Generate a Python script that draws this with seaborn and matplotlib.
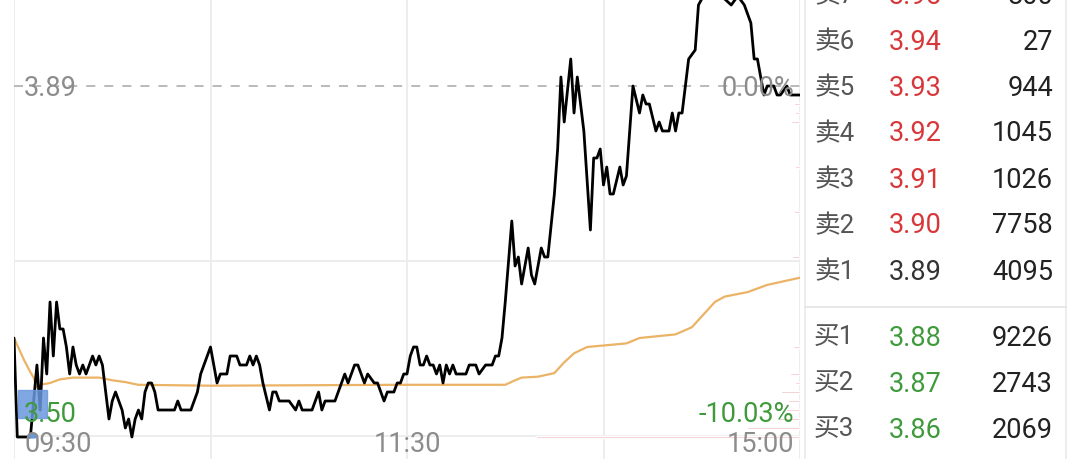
import pandas as pd
import matplotlib.pyplot as plt
import seaborn as sns
from matplotlib.lines import Line2D
from matplotlib.patches import Rectangle, Circle

sns.set_theme(style='white')
plt.rcParams['font.family'] = ['Roboto', 'Noto Sans CJK SC', 'DejaVu Sans']

# ===== 分时数据（分钟序号 0-240，0=09:30，120=11:30/13:00，240=15:00） =====
t_price = [0, 1, 5, 7, 8, 9, 10, 11, 12, 13, 14, 15, 16, 17, 18, 19, 20, 21, 22, 23,
           24, 25, 26, 27, 28, 29, 30, 31, 32, 33, 34, 35, 36, 37, 38, 39, 40, 41, 42, 43,
           44, 49, 50, 51, 54, 55, 56, 57, 58, 60, 61, 62, 63, 65, 66, 68, 69, 71, 72, 73,
           74, 75, 76, 78, 79, 80, 81, 84, 86, 87, 88, 91, 92, 93, 94, 95, 98, 100, 101, 102,
           104, 105, 107, 108, 110, 111, 113, 114, 116, 117, 118, 119, 120,
           121, 122, 123, 124, 125, 126, 127, 128, 129, 130, 131, 132, 133, 134, 135, 138, 139,
           141, 142, 144, 146, 147, 148, 149, 150, 152, 153, 154, 155, 157, 158, 159, 160, 161,
           162, 163, 165, 166, 167, 168, 170, 171, 172, 173, 174, 176, 177, 178, 179, 180, 181,
           182, 183, 185, 186, 187, 189, 191, 192, 193, 194, 196, 197, 198, 200, 201, 202, 203,
           204, 206, 208, 209, 212, 216, 219, 221, 223, 224, 225, 226, 227, 228, 229, 230, 231,
           232, 233, 234, 236, 237, 238, 240]
price = [3.61, 3.50, 3.50, 3.58, 3.53, 3.61, 3.57, 3.65, 3.59, 3.65, 3.62, 3.62, 3.60, 3.57, 3.60, 3.58, 3.57, 3.58, 3.57, 3.58,
         3.59, 3.58, 3.59, 3.58, 3.55, 3.52, 3.54, 3.55, 3.54, 3.53, 3.51, 3.52, 3.50, 3.52, 3.53, 3.52, 3.55, 3.56, 3.56, 3.55,
         3.53, 3.53, 3.54, 3.53, 3.53, 3.54, 3.55, 3.57, 3.58, 3.60, 3.58, 3.56, 3.57, 3.57, 3.59, 3.59, 3.58, 3.58, 3.59, 3.58,
         3.59, 3.58, 3.56, 3.53, 3.55, 3.55, 3.54, 3.54, 3.53, 3.54, 3.53, 3.53, 3.54, 3.55, 3.53, 3.54, 3.54, 3.56, 3.57, 3.56,
         3.58, 3.58, 3.56, 3.57, 3.56, 3.56, 3.54, 3.55, 3.55, 3.56, 3.56, 3.57, 3.57,
         3.59, 3.60, 3.60, 3.58, 3.58, 3.59, 3.58, 3.58, 3.57, 3.58, 3.56, 3.58, 3.57, 3.58, 3.57, 3.57, 3.58,
         3.58, 3.57, 3.58, 3.58, 3.59, 3.59, 3.61, 3.65, 3.74, 3.69, 3.70, 3.67, 3.71, 3.68, 3.67, 3.69, 3.71,
         3.70, 3.70, 3.77, 3.82, 3.90, 3.85, 3.92, 3.86, 3.90, 3.87, 3.84, 3.73, 3.81, 3.81, 3.82, 3.78, 3.80,
         3.77, 3.77, 3.80, 3.78, 3.79, 3.89, 3.86, 3.88, 3.87, 3.87, 3.84, 3.85, 3.84, 3.84, 3.86, 3.84, 3.86,
         3.86, 3.92, 3.93, 3.98, 4.00, 3.99, 3.98, 3.99, 3.98, 3.97, 3.96, 3.92, 3.92, 3.90, 3.88, 3.89, 3.89,
         3.89, 3.88, 3.88, 3.89, 3.88, 3.88, 3.88]

# 均价线
t_avg = [0, 3, 5, 6, 7, 8, 11, 14, 18, 26, 30, 34, 38, 60, 118, 150, 153, 155, 160, 165,
         168, 171, 175, 187, 191, 202, 207, 211, 214, 217, 224, 230, 240]
avg_price = [3.610, 3.586, 3.572, 3.566, 3.555, 3.558, 3.560, 3.564, 3.566, 3.566, 3.563, 3.561,
             3.558, 3.557, 3.558, 3.558, 3.563, 3.566, 3.567, 3.571, 3.583, 3.593, 3.600, 3.604,
             3.610, 3.614, 3.622, 3.638, 3.650, 3.656, 3.661, 3.669, 3.677]

# 分价成交量（右侧粉色短线）
vp_price = [3.87, 3.86, 3.85, 3.80, 3.75, 3.70, 3.60, 3.57, 3.56, 3.55, 3.54, 3.53, 3.52, 3.51, 3.50]
vp_volume = [6, 5, 9, 5, 6, 8, 7, 10, 5, 19, 12, 14, 22, 53, 264]

prev_close = 3.89
time_labels = ['09:30', '11:30', '15:00']

# 五档盘口
ask_labels = ['卖7', '卖6', '卖5', '卖4', '卖3', '卖2', '卖1']
ask_prices = ['3.95', '3.94', '3.93', '3.92', '3.91', '3.90', '3.89']
ask_volumes = ['800', '27', '944', '1045', '1026', '7758', '4095']
bid_labels = ['买1', '买2', '买3']
bid_prices = ['3.88', '3.87', '3.86']
bid_volumes = ['9226', '2743', '2069']

W, H = 1080, 459
RED, GREEN, GREY = '#d8373a', '#3f9a3c', '#8c8c8c'


def fx(x):
    return x / W


def fy(y):
    return 1 - y / H


fig = plt.figure(figsize=(10.8, 4.59), dpi=100)
fig.patch.set_facecolor('white')

ax = fig.add_axes([fx(14), 0, (800 - 14) / W, 1])
ax.set_xlim(0, 240)
ax.set_ylim(prev_close - (H - 86) / 900, prev_close + 86 / 900)
ax.axis('off')

# 网格
for m in [0, 60, 120, 180, 240]:
    ax.axvline(m, color='#ececec', lw=1.3, zorder=0)
for r in [0.95, 0.90]:
    ax.axhline(prev_close * r, color='#ececec', lw=1.3, zorder=0)
ax.axhline(prev_close, color='#b4b4b4', lw=1.3, ls=(0, (5, 5)), zorder=1)

# 分价量
ax.barh(vp_price, [v * 240 / 786 for v in vp_volume],
        left=[240 - v * 240 / 786 for v in vp_volume],
        height=0.0022, color='#f1b9ba', zorder=1)

df_p = pd.DataFrame({'t': t_price, 'p': price})
df_a = pd.DataFrame({'t': t_avg, 'p': avg_price})
sns.lineplot(data=df_a, x='t', y='p', ax=ax, color='#ebb365', lw=1.6, estimator=None, zorder=3)
sns.lineplot(data=df_p, x='t', y='p', ax=ax, color='black', lw=2.0, estimator=None, zorder=4)
ax.axis('off')

# 选中标记
fig.add_artist(Rectangle((fx(18), fy(418)), fx(29), 28 / H, color='#6a98dc', alpha=0.85, zorder=2))
fig.add_artist(Circle((fx(33), fy(436)), 0.0042, color='#6a98dc', zorder=2))

fs = 19.5
fig.text(fx(24), fy(88), '3.89', color=GREY, fontsize=fs, va='center', ha='left', zorder=2)
fig.text(fx(794), fy(88), '0.00%', color=GREY, fontsize=fs, va='center', ha='right', zorder=2)
fig.text(fx(24), fy(414), '3.50', color=GREEN, fontsize=fs, va='center', ha='left', zorder=5)
fig.text(fx(794), fy(414), '-10.03%', color=GREEN, fontsize=fs, va='center', ha='right', zorder=5)
# 时间轴标签（底部贴边）
fig.text(fx(24), fy(458), time_labels[0], color=GREY, fontsize=fs, va='bottom', ha='left')
fig.text(fx(407), fy(458), time_labels[1], color=GREY, fontsize=fs, va='bottom', ha='center')
fig.text(fx(794), fy(458), time_labels[2], color=GREY, fontsize=fs, va='bottom', ha='right')

# 盘口面板
fig.add_artist(Line2D([fx(805), fx(805)], [0, 1], color='#ececec', lw=1.3))
fig.add_artist(Line2D([fx(1066), fx(1066)], [0, 1], color='#ececec', lw=1.3))
fig.add_artist(Line2D([fx(805), fx(1066)], [fy(307), fy(307)], color='#e6e6e6', lw=1.3))

row_gap = 46
for i, (lab, pr, vol) in enumerate(zip(ask_labels, ask_prices, ask_volumes)):
    y = -4 + i * row_gap
    pc = RED if float(pr) > prev_close else '#333333'
    fig.text(fx(814), fy(y), lab, color='#555555', fontsize=18.5, va='center', ha='left')
    fig.text(fx(889), fy(y), pr, color=pc, fontsize=fs, va='center', ha='left')
    fig.text(fx(1053), fy(y), vol, color='#222222', fontsize=fs, va='center', ha='right')
for i, (lab, pr, vol) in enumerate(zip(bid_labels, bid_prices, bid_volumes)):
    y = 338 + i * row_gap
    fig.text(fx(814), fy(y), lab, color='#555555', fontsize=18.5, va='center', ha='left')
    fig.text(fx(889), fy(y), pr, color=GREEN, fontsize=fs, va='center', ha='left')
    fig.text(fx(1053), fy(y), vol, color='#222222', fontsize=fs, va='center', ha='right')

fig.savefig('out.png', dpi=100)
